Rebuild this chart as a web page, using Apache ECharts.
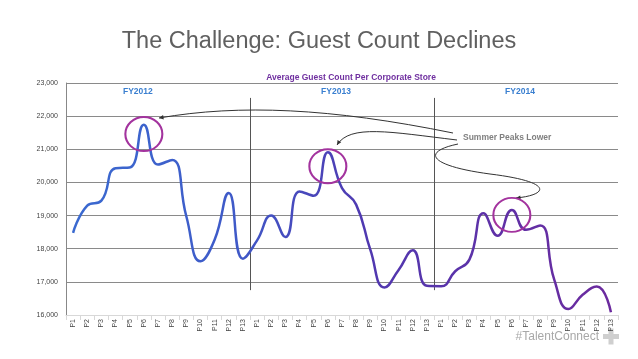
<!DOCTYPE html>
<html><head><meta charset="utf-8">
<script src="https://cdn.jsdelivr.net/npm/echarts@6/dist/echarts.min.js"></script>
<style>html,body{margin:0;padding:0;background:#fff}#c{width:638px;height:359px}</style>
</head><body><div id="c"></div>
<script>
var periods = ['P1','P2','P3','P4','P5','P6','P7','P8','P9','P10','P11','P12','P13'];
var categories = periods.concat(periods, periods);
var fy2012 = [18480,19300,19450,20430,20450,21740,20540,20680,18980,17620,18270,19680,17700];
var fy2013 = [18250,19000,18350,19730,19600,20910,19830,19330,17970,16830,17360,17950,16880];
var fy2014 = [16870,17320,17670,19070,18390,19170,18570,18700,17060,16180,16610,16860,16080];
var guestCount = fy2012.concat(fy2013, fy2014);
var yTicks = [16000,17000,18000,19000,20000,21000,22000,23000];
var yearLabels = ['FY2012','FY2013','FY2014'];
var peaks = [[5,21460],[18,20490],[31,19020]];

var chart = echarts.init(document.getElementById('c'));
chart.setOption({
  animation:false,
  backgroundColor:'#fff',
  title:[
    {text:'The Challenge: Guest Count Declines',left:'center',top:25,
     textStyle:{fontFamily:'Liberation Sans, Arial',fontSize:23.5,fontWeight:'normal',color:'#606060'}},
    {text:'Average Guest Count Per Corporate Store',left:346,textAlign:'center',top:68,
     textStyle:{fontFamily:'Liberation Sans, Arial',fontSize:8.5,fontWeight:'bold',color:'#7030a0'}}
  ],
  grid:{left:66,right:20,top:83,bottom:44},
  xAxis:{type:'category',data:categories,boundaryGap:true,
    axisLine:{lineStyle:{color:'#d8d8d8'}},axisTick:{show:true,lineStyle:{color:'#d8d8d8'}},
    axisLabel:{rotate:90,interval:0,fontSize:7,color:'#444',fontFamily:'Liberation Sans, Arial',margin:4}},
  yAxis:{type:'value',min:yTicks[0],max:yTicks[yTicks.length-1],interval:1000,
    axisLine:{show:true,lineStyle:{color:'#888'}},axisTick:{show:false},
    splitLine:{lineStyle:{color:'#8a8a8a',width:1}},
    axisLabel:{fontSize:7,color:'#444',fontFamily:'Liberation Sans, Arial',margin:8,
      formatter:function(v){return v.toLocaleString('en-US');}}},
  series:[{
    type:'line',data:guestCount,smooth:0.5,symbol:'none',
    lineStyle:{width:2.5,color:new echarts.graphic.LinearGradient(0,0,1,0,[
      {offset:0,color:'#3a6ad0'},{offset:0.3,color:'#3f5ac8'},{offset:0.55,color:'#5038b0'},{offset:1,color:'#6c2a9e'}])},
    markPoint:{symbol:'circle',symbolSize:[37,34],silent:true,
      itemStyle:{color:'rgba(0,0,0,0)',borderColor:'#a3339e',borderWidth:2},
      label:{show:false},
      data:peaks.map(function(p){return {coord:p};})}
  }]
});

function px(i,v){return chart.convertToPixel({xAxisIndex:0,yAxisIndex:0},[i,v]);}
var g = [];
// year separators
[13,26].forEach(function(idx){
  var a = px(idx-1,22550), b = px(idx,16750);
  var x = Math.round((a[0]+b[0])/2)+0.5;
  g.push({type:'line',shape:{x1:x,y1:a[1],x2:x,y2:b[1]},style:{stroke:'#555',lineWidth:1}});
});
// year labels
[5,19,32].forEach(function(i,k){
  var a = px(i,22750);
  g.push({type:'text',x:a[0]-6,y:a[1],style:{text:yearLabels[k],fill:'#3a7fd0',font:'bold 8.5px Liberation Sans, Arial',textAlign:'center',textVerticalAlign:'middle'}});
});
// annotation
g.push({type:'text',x:463,y:138,style:{text:'Summer Peaks Lower',fill:'#808080',font:'bold 8.5px Liberation Sans, Arial',textVerticalAlign:'middle'}});
var arrowStyle = {stroke:'#333',lineWidth:1,fill:null};
g.push({type:'bezierCurve',shape:{x1:453,y1:133,cpx1:330,cpy1:108,cpx2:240,cpy2:104,x2:159,y2:118},style:arrowStyle});
g.push({type:'bezierCurve',shape:{x1:457,y1:140,cpx1:390,cpy1:132,cpx2:350,cpy2:124,x2:337,y2:145},style:arrowStyle});
g.push({type:'bezierCurve',shape:{x1:458,y1:144,cpx1:420,cpy1:152,cpx2:430,cpy2:166,x2:490,y2:174},style:arrowStyle});
g.push({type:'bezierCurve',shape:{x1:490,y1:174,cpx1:555,cpy1:182,cpx2:548,cpy2:195,x2:516,y2:198},style:arrowStyle});
// arrowheads (angle points back along the curve)
function head(x,y,ang){
  var L=5,w=0.45;
  return {type:'polygon',shape:{points:[[x,y],[x+L*Math.cos(ang+w),y+L*Math.sin(ang+w)],[x+L*Math.cos(ang-w),y+L*Math.sin(ang-w)]]},style:{fill:'#333'}};
}
g.push(head(159,118,Math.atan2(-14,81)));
g.push(head(337,145,Math.atan2(-21,13)));
g.push(head(516,198,Math.atan2(-3,32)));
// branding
g.push({type:'text',x:599,y:337,style:{text:'#TalentConnect',fill:'#a8a8a8',font:'12px Liberation Sans, Arial',textAlign:'right',textVerticalAlign:'middle'}});
g.push({type:'rect',shape:{x:603,y:334,width:16,height:5},style:{fill:'#cfcfcf'}});
g.push({type:'rect',shape:{x:608.5,y:328.5,width:5,height:16},style:{fill:'#cfcfcf'}});
chart.setOption({graphic:g});
</script>
</body></html>
